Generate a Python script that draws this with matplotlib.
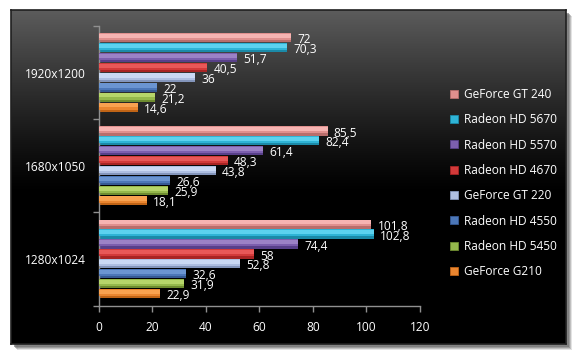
import numpy as np
import matplotlib
matplotlib.use("Agg")
import matplotlib.pyplot as plt
from matplotlib.patches import Rectangle
from matplotlib.lines import Line2D

plt.rcParams['font.family'] = ['Open Sans', 'DejaVu Sans']

categories = ['1280x1024', '1680x1050', '1920x1200']
series_names = ['GeForce GT 240', 'Radeon HD 5670', 'Radeon HD 5570', 'Radeon HD 4670',
                'GeForce GT 220', 'Radeon HD 4550', 'Radeon HD 5450', 'GeForce G210']
gt240 = [101.8, 85.5, 72]
hd5670 = [102.8, 82.4, 70.3]
hd5570 = [74.4, 61.4, 51.7]
hd4670 = [58, 48.3, 40.5]
gt220 = [52.8, 43.8, 36]
hd4550 = [32.6, 26.6, 22]
hd5450 = [31.9, 25.9, 21.2]
g210 = [22.9, 18.1, 14.6]
values = [gt240, hd5670, hd5570, hd4670, gt220, hd4550, hd5450, g210]
xticks = [0, 20, 40, 60, 80, 100, 120]

light = ['#f6b4b2', '#5cd2ef', '#9c82c6', '#e85858', '#cad9f4', '#6b95d1', '#b6d56a', '#f9a250']
mid = ['#e0908e', '#2fb4d6', '#7c5fae', '#d23a3a', '#aebfe2', '#4c77b8', '#95b84c', '#ea8630']
dark = ['#b86e6c', '#1b8aa8', '#58408a', '#a82424', '#8496bc', '#365a94', '#6e8c30', '#c06416']

FS = 8.6
W, H = 579, 358
fig = plt.figure(figsize=(W / 100, H / 100), dpi=100)
fig.patch.set_facecolor('white')

# chart box with shadow and gradient
bx0, by0, bx1, by1 = 11, 10, 566, 344
for k, a in [(6, 0.15), (5, 0.25), (4, 0.35), (3, 0.45)]:
    sh = fig.add_axes([(bx0 + k) / W, 1 - (by1 + k) / H, (bx1 - bx0) / W, (by1 - by0) / H])
    sh.axis('off')
    sh.add_patch(Rectangle((0, 0), 1, 1, transform=sh.transAxes, color='#606060', alpha=a))
bg = fig.add_axes([bx0 / W, 1 - by1 / H, (bx1 - bx0) / W, (by1 - by0) / H])
grad = np.linspace(0, 1, 256)
vals = np.clip(grad / 0.55, 0, 1)
col = (0.36 * (1 - vals) ** 1.2)
img = np.dstack([col, col, col]).reshape(256, 1, 3)
bg.imshow(img, aspect='auto', extent=[0, 1, 0, 1], origin='upper')
bg.set_xlim(0, 1); bg.set_ylim(0, 1)
bg.set_xticks([]); bg.set_yticks([])
for s in bg.spines.values():
    s.set_color('#202020'); s.set_linewidth(1.2)

ax = fig.add_axes([98.5 / W, 1 - 305.5 / H, (420 - 98.5) / W, (305.5 - 26) / H])
ax.set_facecolor('none')

n = len(series_names)
pitch = 0.1067
bh = 0.098
y = np.arange(len(categories))
for i, (name, v) in enumerate(zip(series_names, values)):
    off = (n - 1) / 2 * pitch - i * pitch
    yy = y + off
    ax.barh(yy, v, height=bh, color=dark[i], linewidth=0, zorder=2)
    ax.barh(yy + bh * 0.12, v, height=bh * 0.76, color=mid[i], linewidth=0, zorder=3)
    ax.barh(yy + bh * 0.22, v, height=bh * 0.45, color=light[i], linewidth=0, zorder=4)
    for yv, xv in zip(yy, v):
        lbl = ('%g' % xv).replace('.', ',')
        ax.annotate(lbl, (xv, yv), xytext=(4.5, -1.5), textcoords='offset points',
                    ha='left', va='center', color='white', fontsize=FS, zorder=6)

ax.set_xlim(0, 120)
ax.set_ylim(-0.5, 2.5)
ax.set_xticks(xticks)
ax.set_xticklabels([str(t) for t in xticks])
ax.set_yticks(y)
ax.set_yticklabels(categories)
ax.set_yticks([-0.5, 0.5, 1.5, 2.5], minor=True)
ax.tick_params(axis='y', which='major', length=0, pad=9, labelcolor='white', labelsize=FS)
ax.tick_params(axis='y', which='minor', length=4, color='#909090', width=1)
ax.tick_params(axis='x', length=4, color='#909090', width=1, pad=7, labelcolor='white', labelsize=FS)
for s in ['top', 'right']:
    ax.spines[s].set_visible(False)
for s in ['left', 'bottom']:
    ax.spines[s].set_color('#909090')
    ax.spines[s].set_linewidth(1)

handles = [Line2D([0], [0], marker='s', linestyle='none', markersize=5.5,
                  markerfacecolor=mid[i], markeredgecolor=dark[i], markeredgewidth=0.6)
           for i in range(n)]
leg = fig.legend(handles, series_names, loc='upper left', bbox_to_anchor=(449 / W, 1 - 88 / H),
                 frameon=False, labelspacing=1.03, handlelength=0.8, handletextpad=0.45,
                 fontsize=FS, labelcolor='white', borderaxespad=0, borderpad=0)

fig.savefig('out.png', dpi=100, facecolor='white')
